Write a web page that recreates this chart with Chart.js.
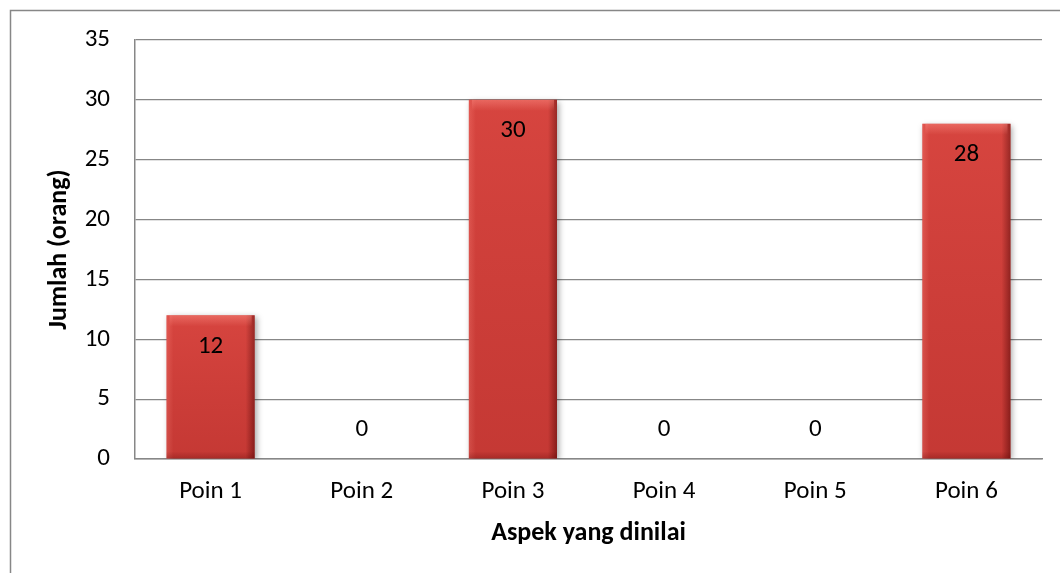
<!DOCTYPE html>
<html>
<head>
<meta charset="utf-8">
<script src="https://cdn.jsdelivr.net/npm/chart.js@4/dist/chart.umd.min.js"></script>
<style>
  html, body { margin: 0; padding: 0; background: #fff; }
  #wrap { width: 1060px; height: 573px; position: relative; }
</style>
</head>
<body>
<div id="wrap"><canvas id="chart"></canvas></div>
<script>
// data aspek yang dinilai
const kategori = ["Poin 1", "Poin 2", "Poin 3", "Poin 4", "Poin 5", "Poin 6"];
const jumlah = [12, 0, 30, 0, 0, 28];
const yTicks = [0, 5, 10, 15, 20, 25, 30, 35];

const FONT = "Carlito, Calibri, Lato, 'Noto Sans', sans-serif";
const GRID = "#878787";

// bingkai luar grafik
const frameBorder = {
    id: 'frameBorder',
    beforeDraw(chart) {
        const c = chart.ctx;
        c.save();
        c.strokeStyle = GRID;
        c.lineWidth = 1.5;
        c.strokeRect(10.5, 10.5, 1200, 1200);
        c.restore();
    }
};

// bayangan + efek bevel pada batang
const barBevel = {
    id: 'barBevel',
    beforeDatasetDraw(chart) {
        const c = chart.ctx;
        c.save();
        c.shadowColor = 'rgba(0,0,0,0.35)';
        c.shadowBlur = 6;
        c.shadowOffsetX = 2;
        c.shadowOffsetY = 2;
    },
    afterDatasetDraw(chart, args) {
        const c = chart.ctx;
        c.restore();
        c.save();
        args.meta.data.forEach(bar => {
            const h = bar.base - bar.y;
            if (h <= 0) return;
            const l = bar.x - bar.width / 2, r = bar.x + bar.width / 2, t = bar.y, b = bar.base;
            const e = 7;
            // sisi kiri terang
            let g = c.createLinearGradient(l, 0, l + e, 0);
            g.addColorStop(0, 'rgba(255,140,130,0.3)');
            g.addColorStop(1, 'rgba(255,140,130,0)');
            c.fillStyle = g; c.fillRect(l, t, e, h);
            // sisi kanan gelap
            g = c.createLinearGradient(r - e - 2, 0, r, 0);
            g.addColorStop(0, 'rgba(70,0,0,0)');
            g.addColorStop(1, 'rgba(70,0,0,0.5)');
            c.fillStyle = g; c.fillRect(r - e - 2, t, e + 2, h);
            // sisi atas terang
            g = c.createLinearGradient(0, t, 0, t + e + 4);
            g.addColorStop(0, 'rgba(255,150,140,0.45)');
            g.addColorStop(1, 'rgba(255,150,140,0)');
            c.fillStyle = g; c.fillRect(l + 3, t, bar.width - 6, e + 4);
            // sisi bawah sedikit gelap
            g = c.createLinearGradient(0, b - e, 0, b);
            g.addColorStop(0, 'rgba(80,0,0,0)');
            g.addColorStop(1, 'rgba(80,0,0,0.25)');
            c.fillStyle = g; c.fillRect(l, b - e, bar.width, e);
            // tubuh: gradasi vertikal halus
            g = c.createLinearGradient(0, t, 0, b);
            g.addColorStop(0, 'rgba(255,110,100,0.12)');
            g.addColorStop(1, 'rgba(90,0,0,0.1)');
            c.fillStyle = g; c.fillRect(l, t, bar.width, h);
        });
        c.restore();
    }
};

// label nilai di ujung dalam batang
const nilaiLabel = {
    id: 'nilaiLabel',
    afterDatasetsDraw(chart) {
        const c = chart.ctx;
        const meta = chart.getDatasetMeta(0);
        c.save();
        c.font = "25px " + FONT;
        c.fillStyle = '#000';
        c.textAlign = 'center';
        c.textBaseline = 'middle';
        meta.data.forEach((bar, i) => {
            const v = jumlah[i];
            const y = v > 0 ? bar.y + 31 : bar.base - 29;
            c.fillText(String(v), bar.x, y);
        });
        c.restore();
    }
};

new Chart(document.getElementById('chart'), {
    type: 'bar',
    data: {
        labels: kategori,
        datasets: [{
            data: jumlah,
            backgroundColor: '#d13f3a',
            borderWidth: 0,
            categoryPercentage: 1,
            barPercentage: 0.583
        }]
    },
    options: {
        responsive: true,
        maintainAspectRatio: false,
        animation: false,
        events: [],
        layout: { padding: { top: 40, right: 18, left: 0, bottom: 0 } },
        plugins: { legend: { display: false }, tooltip: { enabled: false } },
        scales: {
            x: {
                grid: { display: false, drawTicks: false },
                border: { display: true, color: GRID, width: 1.5 },
                ticks: { color: '#000', font: { family: FONT, size: 25 }, padding: 18, maxRotation: 0 },
                title: {
                    display: true, text: 'Aspek yang dinilai', color: '#000',
                    font: { family: FONT, size: 26, weight: 'bold' },
                    padding: { top: 0, bottom: 24 }
                },
                afterFit(scale) { scale.height = 114; }
            },
            y: {
                min: 0, max: 35,
                afterBuildTicks(scale) { scale.ticks = yTicks.map(v => ({ value: v })); },
                grid: { color: GRID, lineWidth: 1.2, drawTicks: false },
                border: { display: true, color: GRID, width: 1.5 },
                ticks: { color: '#000', font: { family: FONT, size: 25 }, padding: 25 },
                title: {
                    display: true, text: 'Jumlah (orang)', color: '#000',
                    font: { family: FONT, size: 26, weight: 'bold' },
                    padding: { top: 44, bottom: 0 }
                },
                afterFit(scale) { scale.width = 135; }
            }
        }
    },
    plugins: [frameBorder, barBevel, nilaiLabel]
});
</script>
</body>
</html>
